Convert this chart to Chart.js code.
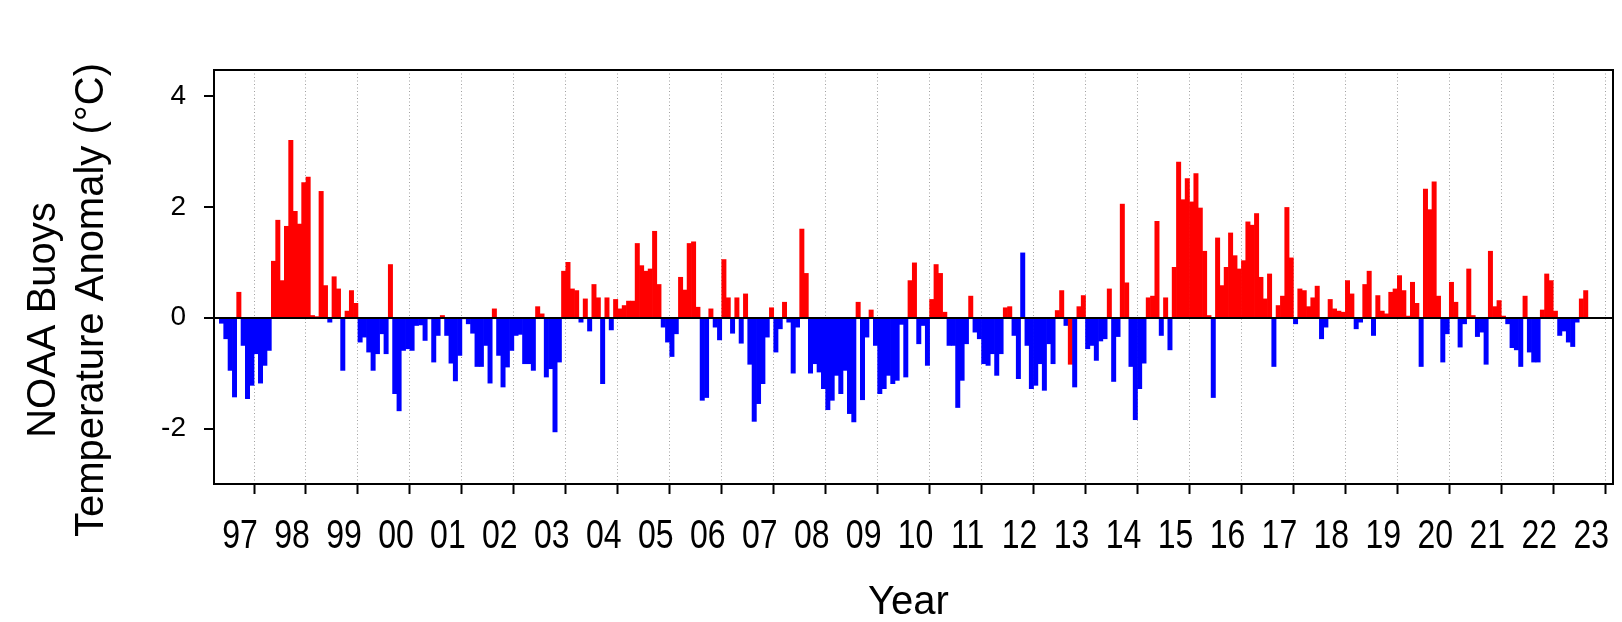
<!DOCTYPE html>
<html>
<head>
<meta charset="utf-8">
<title>NOAA Buoys Temperature Anomaly</title>
<script src="https://cdn.jsdelivr.net/npm/chart.js@4.4.1/dist/chart.umd.min.js"></script>
<style>
  html, body { margin: 0; padding: 0; background: #fff; }
  #chart { display: block; }
</style>
</head>
<body>
<canvas id="chart" width="1622" height="622"></canvas>
<script>
// ═══════════════════════════════════════
//  Monthly buoy temperature anomaly, May 1996 – Aug 2022
// ═══════════════════════════════════════

// ── Data ──
const FIRST_YEAR  = 1996;
const FIRST_MONTH = 5;   // first bar = May 1996

const anomaly = [
  /* 1996 May-Dec */ -0.10, -0.38, -0.95, -1.43, 0.46, -0.50, -1.46, -1.22,
  /* 1997 */ -0.65, -1.18, -0.86, -0.59, 1.02, 1.76, 0.67, 1.65, 3.20, 1.92, 1.69, 2.44,
  /* 1998 */ 2.54, 0.04, 0.02, 2.28, 0.58, -0.08, 0.74, 0.52, -0.95, 0.12, 0.49, 0.26,
  /* 1999 */ -0.44, -0.35, -0.62, -0.95, -0.65, -0.29, -0.65, 0.96, -1.37, -1.68, -0.59, -0.56,
  /* 2000 */ -0.59, -0.14, -0.13, -0.41, -0.02, -0.80, -0.32, 0.04, -0.32, -0.82, -1.14, -0.68,
  /* 2001 */ -0.02, -0.11, -0.28, -0.88, -0.88, -0.50, -1.18, 0.16, -0.68, -1.25, -0.89, -0.59,
  /* 2002 */ -0.32, -0.30, -0.83, -0.83, -0.95, 0.20, 0.07, -1.07, -0.92, -2.06, -0.80, 0.84,
  /* 2003 */ 1.00, 0.52, 0.49, -0.08, 0.34, -0.24, 0.60, 0.36, -1.19, 0.36, -0.22, 0.33,
  /* 2004 */ 0.16, 0.22, 0.30, 0.30, 1.34, 0.94, 0.84, 0.88, 1.56, 0.60, -0.17, -0.44,
  /* 2005 */ -0.70, -0.29, 0.73, 0.50, 1.34, 1.37, 0.19, -1.49, -1.44, 0.16, -0.17, -0.40,
  /* 2006 */ 1.05, 0.36, -0.28, 0.36, -0.46, 0.43, -0.84, -1.87, -1.55, -1.19, -0.35, 0.18,
  /* 2007 */ -0.62, -0.20, 0.28, -0.08, -1.00, -0.17, 1.60, 0.80, -1.00, -0.83, -0.98, -1.28,
  /* 2008 */ -1.66, -1.49, -1.04, -1.37, -0.95, -1.73, -1.88, 0.28, -1.48, -0.35, 0.14, -0.50,
  /* 2009 */ -1.37, -1.28, -1.04, -1.19, -1.13, -0.12, -1.07, 0.67, 0.99, -0.47, -0.14, -0.86,
  /* 2010 */ 0.33, 0.96, 0.80, 0.10, -0.50, -0.50, -1.62, -1.13, -0.47, 0.39, -0.26, -0.38,
  /* 2011 */ -0.83, -0.86, -0.65, -1.04, -0.65, 0.18, 0.20, -0.32, -1.10, 1.17, -0.50, -1.28,
  /* 2012 */ -1.22, -0.83, -1.31, -0.47, -0.83, 0.13, 0.49, -0.14, -0.84, -1.25, 0.20, 0.40,
  /* 2013 */ -0.56, -0.50, -0.77, -0.42, -0.38, 0.52, -1.15, -0.34, 2.05, 0.63, -0.88, -1.84,
  /* 2014 */ -1.28, -0.82, 0.36, 0.39, 1.74, -0.32, 0.36, -0.58, 0.91, 2.81, 2.13, 2.51,
  /* 2015 */ 2.09, 2.60, 1.98, 1.20, 0.04, -1.44, 1.44, 0.58, 0.91, 1.53, 1.12, 0.88,
  /* 2016 */ 1.03, 1.73, 1.67, 1.88, 0.73, 0.34, 0.79, -0.88, 0.22, 0.39, 1.99, 1.08,
  /* 2017 */ -0.11, 0.52, 0.49, 0.20, 0.36, 0.57, -0.38, -0.17, 0.33, 0.16, 0.12, 0.10,
  /* 2018 */ 0.67, 0.43, -0.20, -0.08, 0.60, 0.84, -0.32, 0.40, 0.12, 0.07, 0.46, 0.52,
  /* 2019 */ 0.76, 0.49, 0.03, 0.64, 0.26, -0.88, 2.32, 1.95, 2.45, 0.39, -0.80, -0.29,
  /* 2020 */ 0.64, 0.28, -0.53, -0.11, 0.88, 0.04, -0.34, -0.26, -0.84, 1.20, 0.20, 0.31,
  /* 2021 */ 0.03, -0.11, -0.54, -0.58, -0.88, 0.39, -0.62, -0.80, -0.80, 0.14, 0.79, 0.67,
  /* 2022 Jan-Aug */ 0.12, -0.32, -0.24, -0.44, -0.52, -0.08, 0.34, 0.49
];

// months whose bar colour does not follow the sign
const flipped = ["2011-10", "2012-09"];

const yearTicks  = [1997, 1998, 1999, 2000, 2001, 2002, 2003, 2004, 2005, 2006, 2007, 2008, 2009,
                    2010, 2011, 2012, 2013, 2014, 2015, 2016, 2017, 2018, 2019, 2020, 2021, 2022, 2023];
const yearLabels = ["97", "98", "99", "00", "01", "02", "03", "04", "05", "06", "07", "08", "09",
                    "10", "11", "12", "13", "14", "15", "16", "17", "18", "19", "20", "21", "22", "23"];
const yTicks     = [-2, 0, 2, 4];
const xRange     = [1996.23, 2023.15];
const yRange     = [-3, 4.47];

const xTitle = "Year";
const yTitle = ["NOAA Buoys", "Temperature Anomaly (°C)"];

// ── Styles ──
const RED  = "#ff0000";
const BLUE = "#0000ff";
const SANS = "'Liberation Sans', Arial, sans-serif";

// ── Build points ──
const points = anomaly.map((v, i) => {
  const m     = FIRST_MONTH - 1 + i;
  const year  = FIRST_YEAR + Math.floor(m / 12);
  const month = m % 12;
  return {
    x: year + (month + 0.5) / 12,
    y: v,
    key: `${year}-${String(month + 1).padStart(2, "0")}`
  };
});
const colours = points.map(p => ((p.y >= 0) !== flipped.includes(p.key)) ? RED : BLUE);

// ── Frame, narrow year labels, axis titles ──
const frameAndTitles = {
  id: "frameAndTitles",
  afterDraw(chart) {
    const { ctx, chartArea: a } = chart;
    const xs = chart.scales.x;
    ctx.save();
    ctx.strokeStyle = "#000";
    ctx.lineWidth   = 2;
    ctx.strokeRect(a.left, a.top, a.right - a.left, a.bottom - a.top);

    ctx.fillStyle    = "#000";
    ctx.font         = `40px ${SANS}`;
    ctx.textAlign    = "center";
    ctx.textBaseline = "alphabetic";

    // year tick labels: condensed, a little left of each tick
    xs.ticks.forEach(t => {
      ctx.save();
      ctx.translate(xs.getPixelForValue(t.value) - 14, a.bottom + 64);
      ctx.scale(0.8, 1);
      ctx.fillText(t.label, 0, 0);
      ctx.restore();
    });

    ctx.fillText(xTitle, (a.left + a.right) / 2 - 5, 614);

    [320, 300].forEach((cy, i) => {
      ctx.save();
      ctx.translate(55 + i * 48, cy);
      ctx.rotate(-Math.PI / 2);
      ctx.fillText(yTitle[i], 0, 0);
      ctx.restore();
    });
    ctx.restore();
  }
};

// ── Chart ──
new Chart(document.getElementById("chart"), {
  type: "bar",
  data: {
    datasets: [{
      data: points,
      backgroundColor: colours,
      borderWidth: 0,
      barPercentage: 1,
      categoryPercentage: 1
    }]
  },
  options: {
    responsive: false,
    animation: false,
    layout: { padding: { left: 0, right: 9, top: 70, bottom: 0 } },
    plugins: {
      legend:  { display: false },
      tooltip: { enabled: false }
    },
    scales: {
      x: {
        type: "linear",
        offset: false,
        min: xRange[0],
        max: xRange[1],
        afterBuildTicks: s => { s.ticks = yearTicks.map(v => ({ value: v })); },
        afterFit: s => { s.height = 138; s.paddingLeft = 0; s.paddingRight = 0; },
        ticks: {
          display: false,
          autoSkip: false,
          maxRotation: 0,
          callback: (v, i) => yearLabels[i]
        },
        grid: {
          offset: false,
          color: "#a0a0a0",
          lineWidth: 1,
          tickColor: "#000",
          tickWidth: 2,
          tickLength: 10
        },
        border: { display: false, dash: [1, 2.5] }
      },
      y: {
        min: yRange[0],
        max: yRange[1],
        afterBuildTicks: s => { s.ticks = yTicks.map(v => ({ value: v })); },
        afterFit: s => { s.width = 214; },
        ticks: {
          padding: 18,
          color: "#000",
          font: { family: SANS, size: 28 }
        },
        grid: {
          z: 1,
          color: c => (c.tick && c.tick.value === 0) ? "#000" : "rgba(0,0,0,0)",
          lineWidth: 2,
          tickColor: "#000",
          tickWidth: 2,
          tickLength: 10
        },
        border: { display: false }
      }
    }
  },
  plugins: [frameAndTitles]
});
</script>
</body>
</html>
